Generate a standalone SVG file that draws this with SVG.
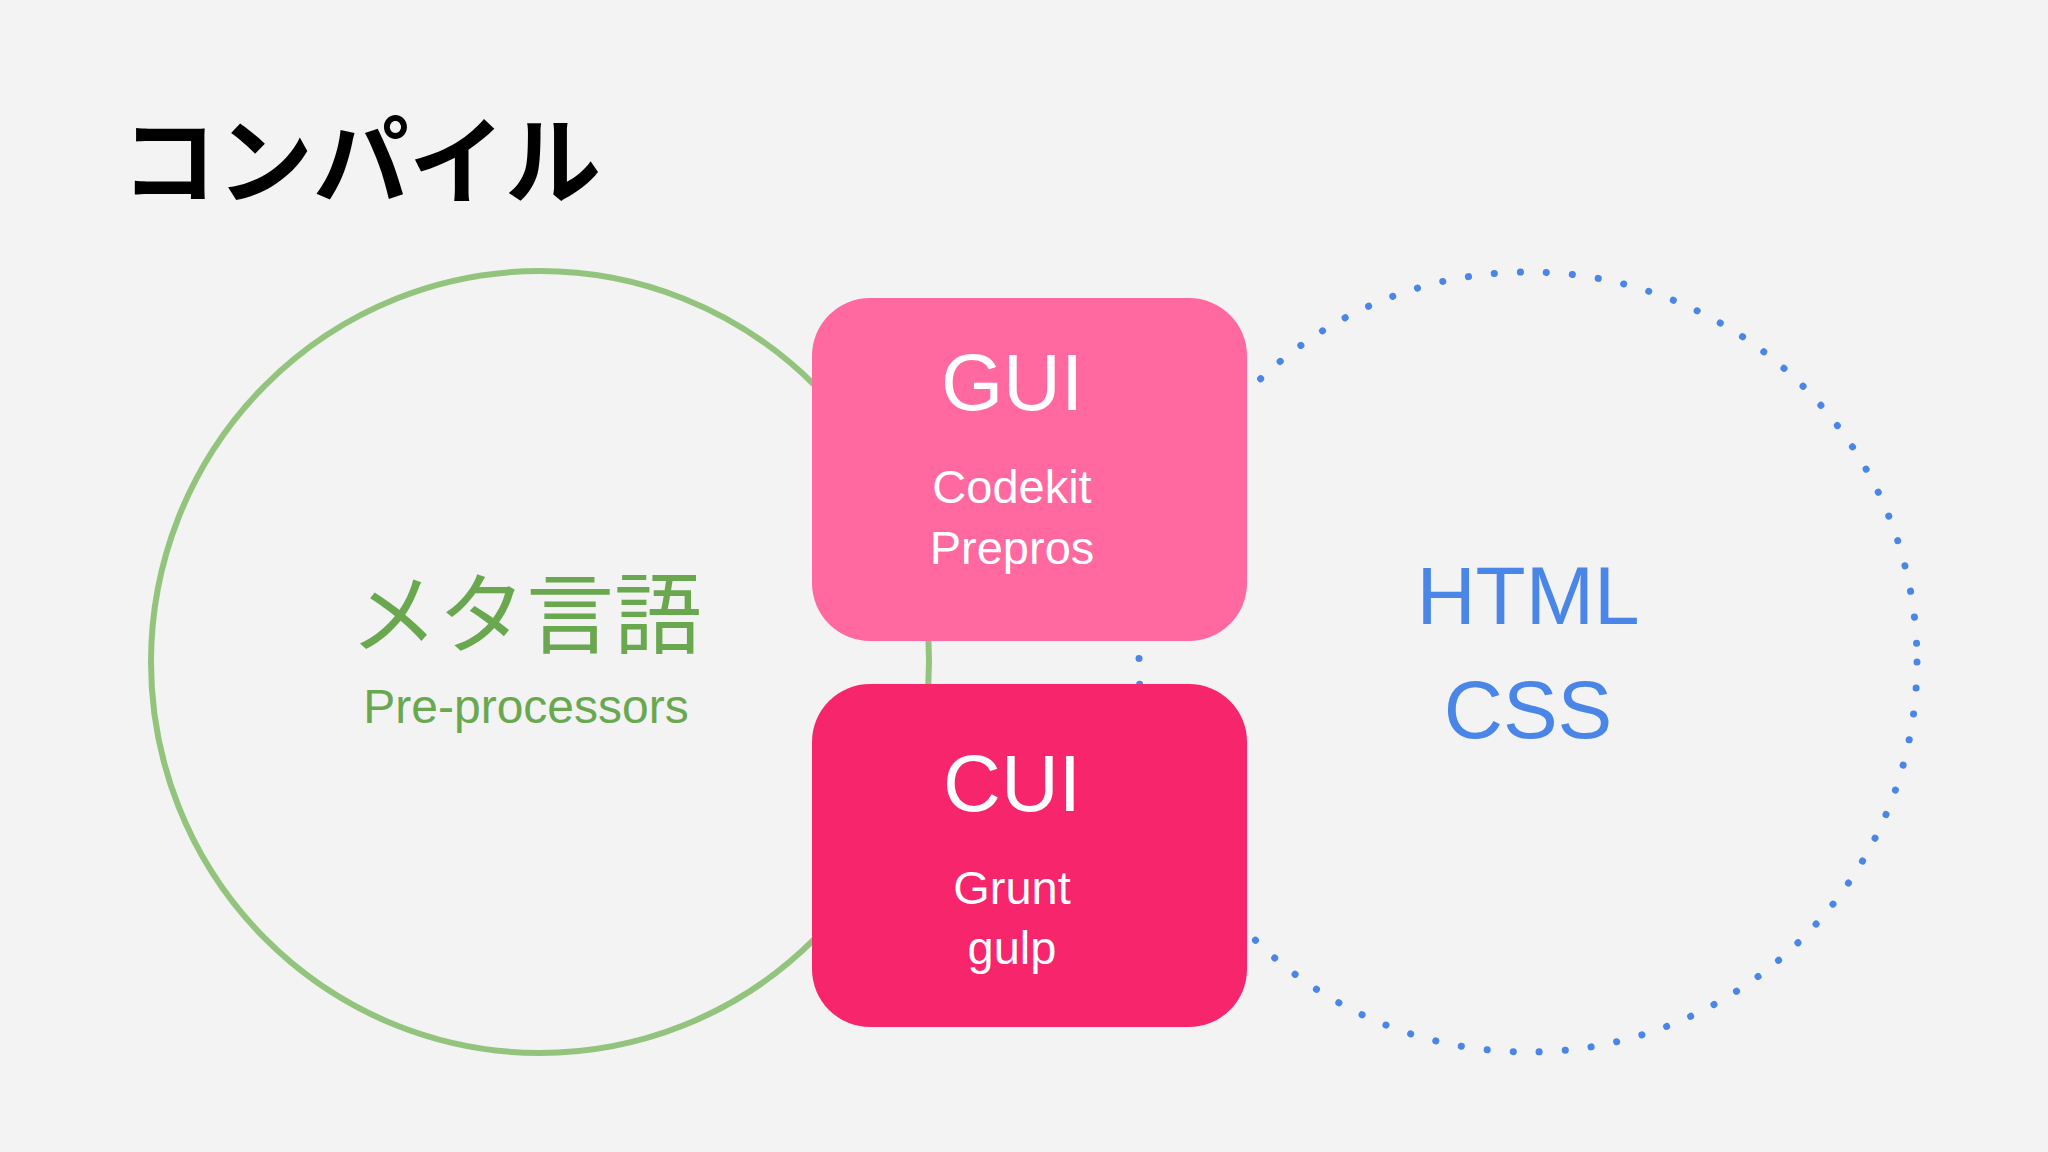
<svg xmlns="http://www.w3.org/2000/svg" width="2048" height="1152" viewBox="0 0 2048 1152">
<style>
.t{font-family:"Liberation Sans","Noto Sans CJK JP",sans-serif;text-anchor:middle}
.w{fill:#fff}
</style>
<rect width="2048" height="1152" fill="#f3f3f3"/>
<text x="121" y="196" font-family="'Noto Sans CJK JP',sans-serif" font-weight="bold" font-size="96" fill="#000">コンパイル</text>
<g id="connectors"></g>
<g id="meta">
<ellipse cx="540" cy="662" rx="389" ry="391" fill="none" stroke="#93c47d" stroke-width="6"/>
<text class="t" x="526" y="646" font-size="88" fill="#6aa84f">メタ言語</text>
<text class="t" x="526" y="723" font-size="48" fill="#6aa84f">Pre-processors</text>
</g>
<g id="html">
<ellipse cx="1528" cy="662" rx="389" ry="390" fill="none" stroke="#4a86e8" stroke-width="7" stroke-linecap="round" stroke-dasharray="0.1 26"/>
<text class="t" x="1528" y="624" font-size="82" fill="#4a86e8">HTML</text>
<text class="t" x="1528" y="738" font-size="82" fill="#4a86e8">CSS</text>
</g>
<g id="gui">
<rect x="812" y="298" width="435" height="343" rx="58" fill="#ff69a0"/>
<text class="t w" x="1012" y="410" font-size="80">GUI</text>
<text class="t w" x="1012" y="503" font-size="47">Codekit</text>
<text class="t w" x="1012" y="564" font-size="47">Prepros</text>
</g>
<g id="cui">
<rect x="812" y="684" width="435" height="343" rx="58" fill="#f7256c"/>
<text class="t w" x="1012" y="811" font-size="80">CUI</text>
<text class="t w" x="1012" y="904" font-size="47">Grunt</text>
<text class="t w" x="1012" y="964" font-size="47">gulp</text>
</g>
</svg>
